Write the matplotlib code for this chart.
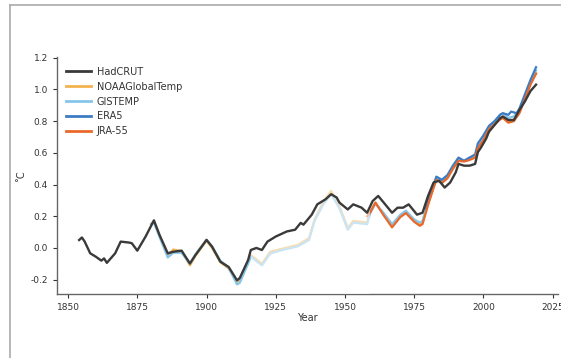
import matplotlib
matplotlib.use("Agg")
import matplotlib.pyplot as plt
from matplotlib.lines import Line2D

# global mean temperature difference from 1850-1900 (deg C)
had_years = [1854, 1855, 1856, 1858, 1860, 1862, 1863, 1864, 1867, 1869, 1872, 1873,
             1875, 1878, 1881, 1883, 1886, 1888, 1891, 1894, 1896, 1900, 1902, 1905,
             1908, 1911, 1912, 1915, 1916, 1918, 1920, 1922, 1925, 1929, 1932, 1934,
             1935, 1938, 1940, 1943, 1945, 1947, 1948, 1951, 1953, 1956, 1958, 1960,
             1962, 1964, 1967, 1969, 1971, 1973, 1975, 1976, 1978, 1980, 1982, 1984,
             1986, 1988, 1990, 1991, 1993, 1995, 1997, 1998, 1999, 2001, 2002, 2004,
             2006, 2007, 2009, 2011, 2013, 2015, 2017, 2019]
had_vals = [0.05, 0.066, 0.04, -0.034, -0.055, -0.08, -0.066, -0.094, -0.034, 0.04, 0.034, 0.03,
            -0.017, 0.072, 0.174, 0.083, -0.034, -0.024, -0.017, -0.098, -0.045, 0.051, 0.008, -0.087,
            -0.12, -0.204, -0.19, -0.077, -0.013, 0.0, -0.013, 0.04, 0.072, 0.104, 0.115, 0.158,
            0.147, 0.21, 0.275, 0.307, 0.339, 0.318, 0.286, 0.243, 0.275, 0.254, 0.222, 0.296,
            0.328, 0.286, 0.222, 0.254, 0.254, 0.275, 0.232, 0.21, 0.222, 0.328, 0.413, 0.424,
            0.381, 0.413, 0.477, 0.53, 0.519, 0.519, 0.53, 0.605, 0.63, 0.69, 0.733, 0.775,
            0.818, 0.829, 0.807, 0.807, 0.871, 0.925, 0.99, 1.03]

noaa_years = [1880, 1881, 1883, 1886, 1888, 1891, 1894, 1896, 1900, 1902, 1905, 1908,
              1911, 1912, 1915, 1916, 1920, 1923, 1928, 1933, 1937, 1939, 1942, 1945,
              1948, 1951, 1953, 1958, 1959, 1961, 1964, 1967, 1970, 1972, 1975, 1977,
              1978, 1980, 1982, 1983, 1985, 1987, 1989, 1991, 1993, 1995, 1997, 1998,
              2000, 2002, 2004, 2006, 2007, 2009, 2011, 2013, 2015, 2017, 2019]
noaa_vals = [0.15, 0.17, 0.08, -0.045, -0.01, -0.02, -0.11, -0.05, 0.045, 0.0, -0.09, -0.13,
             -0.215, -0.205, -0.09, -0.045, -0.1, -0.024, -0.002, 0.019, 0.062, 0.179, 0.286, 0.36,
             0.264, 0.126, 0.17, 0.16, 0.222, 0.286, 0.21, 0.14, 0.2, 0.222, 0.17, 0.15,
             0.16, 0.28, 0.38, 0.43, 0.41, 0.44, 0.5, 0.55, 0.55, 0.56, 0.57, 0.63,
             0.68, 0.75, 0.78, 0.82, 0.83, 0.80, 0.81, 0.86, 0.95, 1.04, 1.10]

giss_years = [1880, 1881, 1883, 1886, 1888, 1891, 1894, 1896, 1900, 1902, 1905, 1908,
              1911, 1912, 1915, 1916, 1920, 1923, 1928, 1933, 1937, 1939, 1942, 1945,
              1948, 1951, 1953, 1958, 1959, 1961, 1964, 1967, 1970, 1972, 1975, 1977,
              1978, 1980, 1982, 1983, 1985, 1987, 1989, 1991, 1993, 1995, 1997, 1998,
              2000, 2002, 2004, 2006, 2007, 2009, 2011, 2013, 2015, 2017, 2019]
giss_vals = [0.15, 0.16, 0.07, -0.06, -0.03, -0.03, -0.10, -0.04, 0.05, 0.01, -0.08, -0.125,
             -0.23, -0.22, -0.1, -0.055, -0.11, -0.035, -0.01, 0.01, 0.05, 0.17, 0.27, 0.34,
             0.25, 0.115, 0.16, 0.15, 0.215, 0.28, 0.22, 0.15, 0.21, 0.235, 0.18, 0.16,
             0.17, 0.29, 0.39, 0.44, 0.42, 0.45, 0.51, 0.56, 0.55, 0.57, 0.58, 0.64,
             0.69, 0.76, 0.79, 0.84, 0.85, 0.82, 0.83, 0.87, 0.96, 1.05, 1.12]

era5_years = [1979, 1980, 1982, 1983, 1985, 1987, 1989, 1991, 1993, 1995, 1997, 1998,
              2000, 2002, 2004, 2006, 2007, 2009, 2010, 2012, 2013, 2015, 2017, 2019]
era5_vals = [0.25, 0.31, 0.40, 0.45, 0.43, 0.46, 0.52, 0.57, 0.55, 0.57, 0.59, 0.66,
             0.71, 0.77, 0.80, 0.84, 0.85, 0.84, 0.86, 0.85, 0.88, 0.97, 1.06, 1.14]

jra_years = [1958, 1959, 1961, 1964, 1967, 1970, 1972, 1975, 1977, 1978, 1980, 1982,
             1983, 1985, 1987, 1989, 1991, 1993, 1995, 1997, 1998, 2000, 2002, 2004,
             2006, 2007, 2009, 2011, 2013, 2015, 2017, 2019]
jra_vals = [0.2, 0.222, 0.286, 0.205, 0.13, 0.195, 0.22, 0.165, 0.14, 0.15, 0.27, 0.38,
            0.43, 0.41, 0.44, 0.50, 0.55, 0.545, 0.555, 0.57, 0.63, 0.68, 0.75, 0.78,
            0.81, 0.82, 0.79, 0.80, 0.85, 0.94, 1.03, 1.10]

x_ticks = [1850, 1875, 1900, 1925, 1950, 1975, 2000, 2025]
y_ticks = [-0.2, 0.0, 0.2, 0.4, 0.6, 0.8, 1.0, 1.2]

fig = plt.figure(figsize=(5.61, 3.58), dpi=100)
ax = fig.add_axes([0.1016, 0.179, 0.8934, 0.662])

ax.plot(noaa_years, noaa_vals, color="#f2b34f", lw=1.6, label="NOAAGlobalTemp", zorder=2)
ax.plot(giss_years, giss_vals, color="#86c5ea", lw=1.6, label="GISTEMP", zorder=2)
ax.plot(era5_years, era5_vals, color="#3b7cc4", lw=1.6, label="ERA5", zorder=2)
ax.plot(jra_years, jra_vals, color="#e8692b", lw=1.6, label="JRA-55", zorder=2)
# washed-out band over the mid-century part of the record
ax.axvspan(1916, 1959, ymin=0.0, ymax=0.62, color="white", alpha=0.55, lw=0, zorder=3)
ax.plot(had_years, had_vals, color="#3a3a3a", lw=1.7, label="HadCRUT", zorder=4)

handles, labels = ax.get_legend_handles_labels()
order = [4, 0, 1, 2, 3]
leg = ax.legend([handles[i] for i in order], [labels[i] for i in order],
                loc="upper left", bbox_to_anchor=(0.0, 0.995), frameon=False,
                fontsize=7, handlelength=2.6, handletextpad=0.6, labelspacing=0.5)
for line in leg.get_lines():
    line.set_linewidth(2.0)
for t in leg.get_texts():
    t.set_color("#333333")

ax.set_xlim(1846, 2027)
ax.set_ylim(-0.29, 1.205)
ax.set_xticks(x_ticks)
ax.set_yticks(y_ticks)
ax.set_yticklabels(["%.1f" % v for v in y_ticks])
ax.tick_params(labelsize=6.5, colors="#333333", length=3, width=0.8)
ax.set_xlabel("Year", fontsize=7, color="#333333", labelpad=1)
ax.set_ylabel("˚C", fontsize=7, color="#333333", labelpad=3)

for side in ["top", "right"]:
    ax.spines[side].set_visible(False)
for side in ["left", "bottom"]:
    ax.spines[side].set_color("#666666")
    ax.spines[side].set_linewidth(1.0)

# page border along the top and left
fig.add_artist(Line2D([10 / 561, 1], [1 - 4.5 / 358, 1 - 4.5 / 358],
                      transform=fig.transFigure, color="#aaaaaa", lw=1.2))
fig.add_artist(Line2D([10 / 561, 10 / 561], [0, 1 - 4.5 / 358],
                      transform=fig.transFigure, color="#aaaaaa", lw=1.2))

fig.savefig("out.png", dpi=100)
